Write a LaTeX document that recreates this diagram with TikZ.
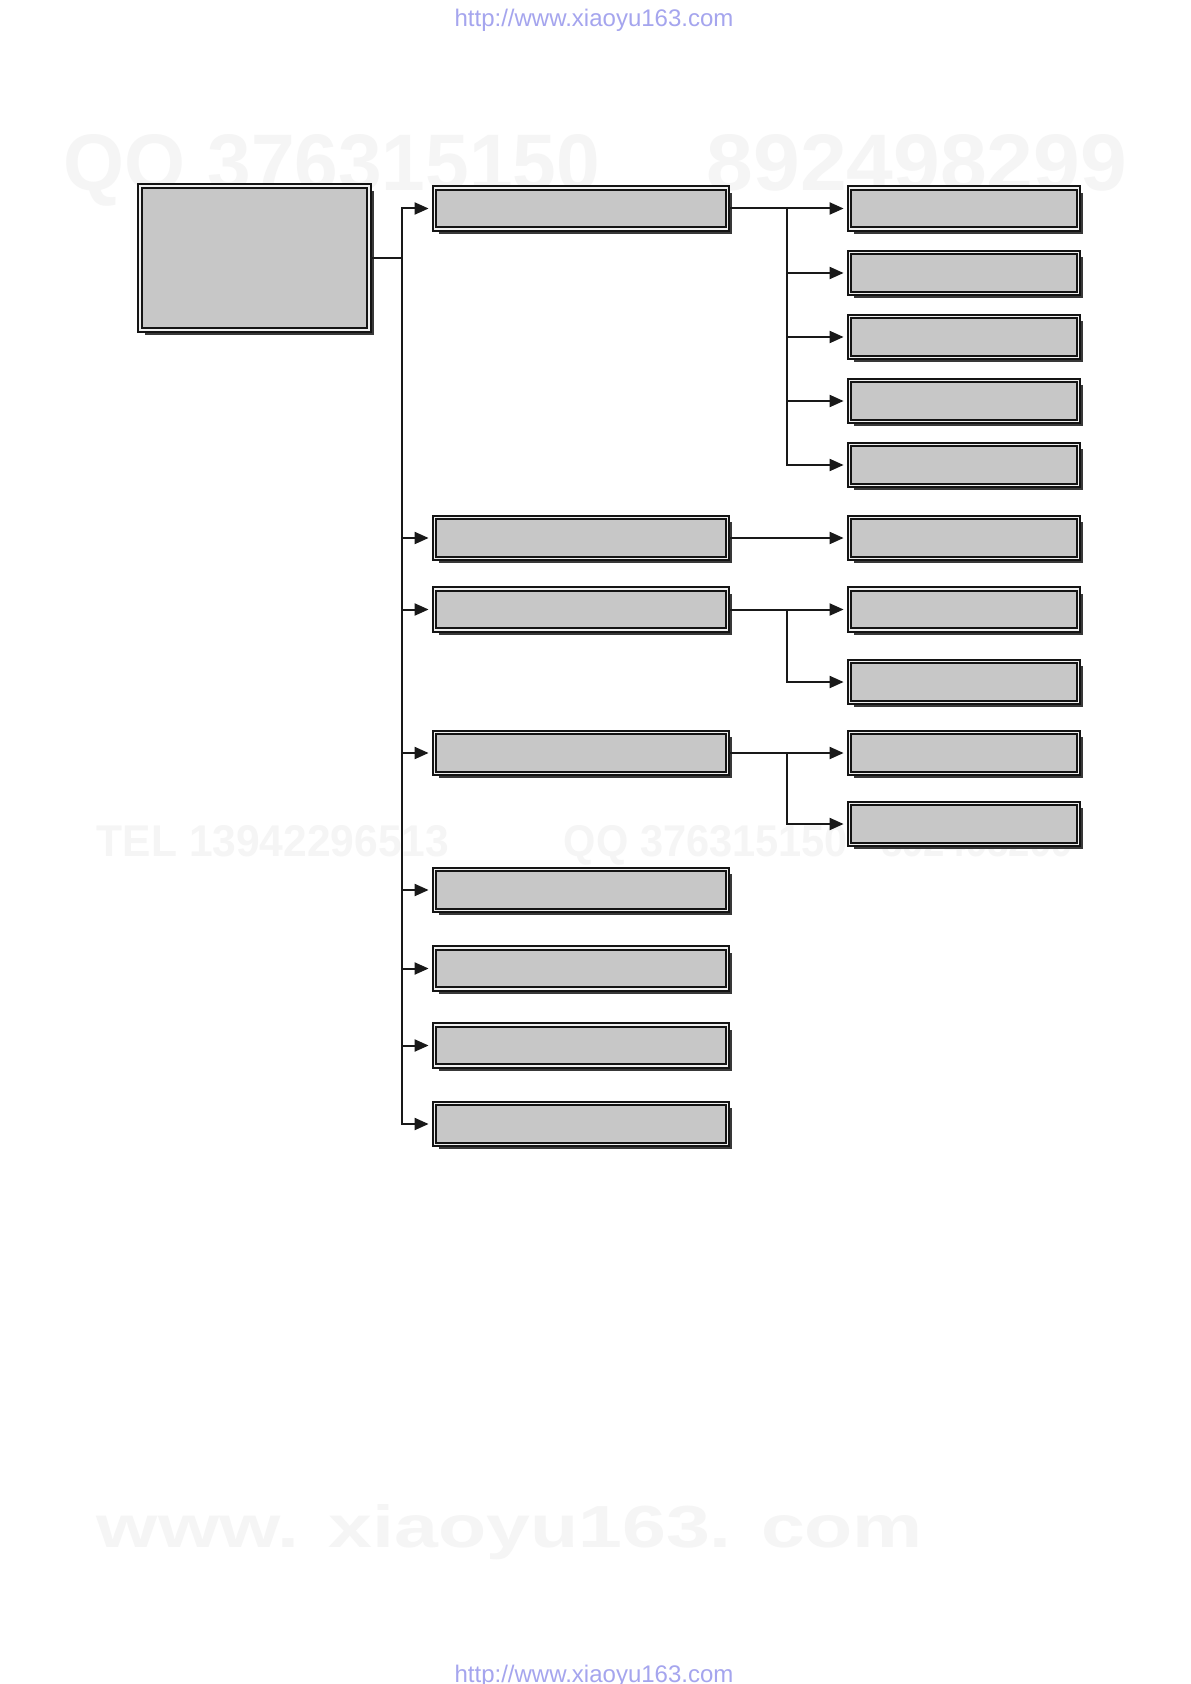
\documentclass[tikz,border=0pt]{standalone}
\usepackage{fontspec}
\setmainfont{Liberation Sans}
\usetikzlibrary{arrows.meta,shadows}
\definecolor{urlblue}{RGB}{165,165,238}

\begin{document}
\begin{tikzpicture}[x=.5pt,y=-.5pt,
    box/.style={draw=black!92,line width=1.1pt,double=black!6,double distance=.6pt,
      fill=black!22,inner sep=0pt,
      drop shadow={shadow xshift=2.4pt,shadow yshift=-2.4pt,fill=black!78,opacity=1}},
    rootbox/.style={box,minimum width=114.5pt,minimum height=72pt},
    lvA/.style={box,minimum width=146.5pt,minimum height=20.5pt},
    lvB/.style={box,minimum width=114.5pt,minimum height=20.5pt},
    link/.style={black!90,line width=1pt,-{Triangle[length=7pt,width=6pt]},shorten >=2.4pt},
    url/.style={text=urlblue,font=\fontsize{12}{14}\selectfont,inner sep=0pt,anchor=base},
    wm/.style={text=black!4,font=\bfseries,inner sep=0pt,anchor=base}]
  \path[use as bounding box,fill=white] (0,0) rectangle (1190,1684);

  % faint watermarks
  \node[wm] (wq1) at (332,191) {\resizebox{268pt}{28pt}{QQ 376315150}};
  \node[wm] (wn1) at (917,191) {\resizebox{210pt}{28pt}{892498299}};
  \node[wm] (wt2) at (273,856) {\resizebox{176pt}{15.5pt}{TEL 13942296513}};
  \node[wm] (wq2) at (706,856) {\resizebox{142pt}{15.5pt}{QQ 376315150}};
  \node[wm] (wn2) at (977,856) {\resizebox{96pt}{15.5pt}{892498299}};
  \node[wm] (www) at (510,1547) {\resizebox{413pt}{21.5pt}{www. xiaoyu163. com}};

  \node[url] (urltop) at (594,27) {http://www.xiaoyu163.com};
  \node[url] (urlbot) at (594,1682) {http://www.xiaoyu163.com};

  % boxes
  \node[rootbox] (root) at (254.5,258) {};
  \foreach \i/\y in {1/208.5,2/538,3/609.5,4/753,5/890,6/968.5,7/1045.5,8/1124}
    \node[lvA] (a\i) at (581,\y) {};
  \foreach \j/\y in {1/208.5,2/273,3/337,4/401,5/465,6/538,7/609.5,8/682,9/753,10/824}
    \node[lvB] (b\j) at (964,\y) {};

  % connectors
  \coordinate (trunk) at (402,0);
  \coordinate (fork) at (787,0);
  \foreach \i in {1,...,8}
    \draw[link] (root.east) -- (trunk |- root.east) |- (a\i.west);
  \foreach \i/\j in {1/1,1/2,1/3,1/4,1/5,2/6,3/7,3/8,4/9,4/10}
    \draw[link] (a\i.east) -- (fork |- a\i.east) |- (b\j.west);
\end{tikzpicture}
\end{document}
